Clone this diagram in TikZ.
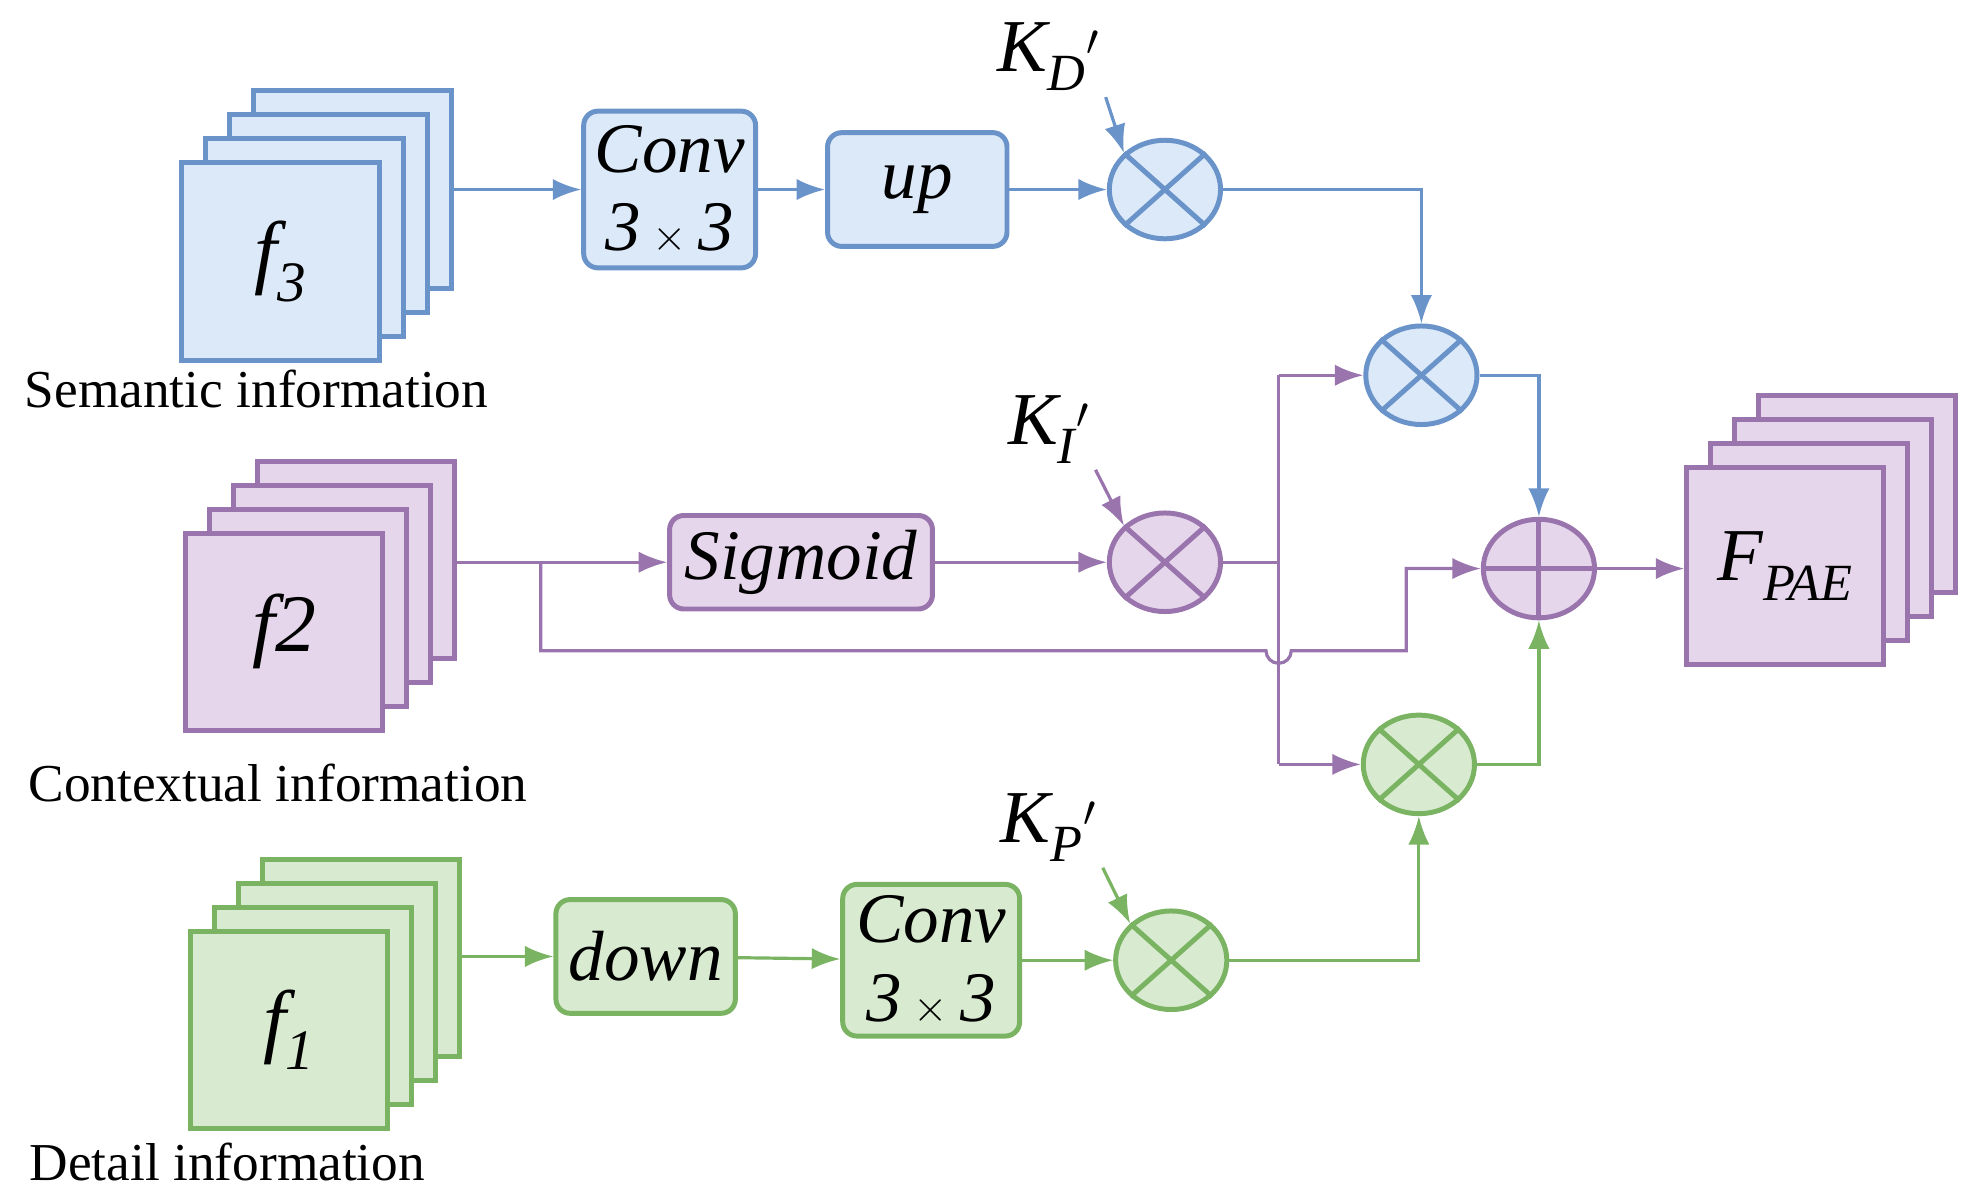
\documentclass[tikz,border=0pt]{standalone}
\usepackage{fontspec}
\setmainfont{Liberation Serif}
\usetikzlibrary{arrows.meta,shapes.geometric}
\definecolor{bluel}{HTML}{6A94C9}
\definecolor{bluef}{HTML}{DCE9F8}
\definecolor{purl}{HTML}{9A74AD}
\definecolor{purf}{HTML}{E6D6EB}
\definecolor{grnl}{HTML}{7AB463}
\definecolor{grnf}{HTML}{D8EBD0}
\tikzset{
  every picture/.style={x=0.025cm,y=-0.025cm},
  box/.style={rectangle,rounded corners=8pt,line width=2.8pt,font=\fontsize{40}{44}\selectfont\itshape,align=center},
  op/.style={ellipse,line width=2.8pt,minimum width=2.2cm,minimum height=1.95cm,inner sep=0pt},
  fmap/.style={rectangle,line width=2.8pt,minimum size=3.9cm,font=\fontsize{46}{50}\selectfont\itshape},
  lbl/.style={font=\fontsize{30}{34}\selectfont},
  klbl/.style={font=\fontsize{42}{46}\selectfont\itshape},
  conn/.style={line width=1.8pt,-{Latex[length=16pt,width=12pt]}},
  wire/.style={line width=1.8pt}
}
\newcommand{\featstack}[4]{% name, center, line, fill
  \foreach \k in {3,2,1}
    \draw[line width=2.8pt,draw=#3,fill=#4] ($(#2)+(19*\k,-19*\k)$) ++(-78,-78) rectangle ++(156,156);
}
\usetikzlibrary{calc}
\newcommand{\cross}[1]{\draw[line width=2.8pt,draw=#1] (\opn.north east)--(\opn.south west) (\opn.north west)--(\opn.south east);}
\begin{document}
\begin{tikzpicture}
\useasboundingbox (0,0) rectangle (1560,948);
% feature maps
\featstack{f3}{222,207}{bluel}{bluef}
\node[fmap,draw=bluel,fill=bluef] (f3) at (222,207) {f\textsubscript{3}};
\featstack{f2}{225,500}{purl}{purf}
\node[fmap,draw=purl,fill=purf] (f2) at (225,500) {f2};
\featstack{f1}{229,815}{grnl}{grnf}
\node[fmap,draw=grnl,fill=grnf] (f1) at (229,815) {f\textsubscript{1}};
\featstack{fpae}{1413,448}{purl}{purf}
\node[fmap,draw=purl,fill=purf,font=\fontsize{42}{46}\selectfont\itshape] (fpae) at (1413,448) {F\textsubscript{PAE}};
\node[lbl] (sem) at (203,308) {Semantic information};
\node[lbl] (ctx) at (220,620) {Contextual information};
\node[lbl] (det) at (180,920) {Detail information};
% blocks
\node[box,draw=bluel,fill=bluef,minimum width=3.4cm,minimum height=3.1cm] (conv3) at (530,150) {Conv\\3\,$\times$\,3};
\node[box,draw=bluel,fill=bluef,minimum width=3.55cm,minimum height=2.25cm] (up) at (726,150) {up};
\node[box,draw=purl,fill=purf,minimum width=5.2cm,minimum height=1.85cm] (sig) at (634,445) {Sigmoid};
\node[box,draw=grnl,fill=grnf,minimum width=3.55cm,minimum height=2.25cm] (down) at (511,757) {down};
\node[box,draw=grnl,fill=grnf,minimum width=3.5cm,minimum height=3cm] (conv1) at (737,760) {Conv\\3\,$\times$\,3};
% operators
\node[op,draw=bluel,fill=bluef] (mD) at (922,150) {};
\node[op,draw=bluel,fill=bluef] (mS) at (1125,297) {};
\node[op,draw=purl,fill=purf] (mI) at (922,445) {};
\node[op,draw=grnl,fill=grnf] (mC) at (1123,605) {};
\node[op,draw=grnl,fill=grnf] (mP) at (927,760) {};
\node[op,draw=purl,fill=purf] (add) at (1218,450) {};
\def\opn{mD}\cross{bluel}
\def\opn{mS}\cross{bluel}
\def\opn{mI}\cross{purl}
\def\opn{mC}\cross{grnl}
\def\opn{mP}\cross{grnl}
\draw[line width=2.8pt,draw=purl] (add.north)--(add.south) (add.west)--(add.east);
% weights
\node[klbl] (kD) at (830,45) {K\textsubscript{D}$'$};
\node[klbl] (kI) at (830,340) {K\textsubscript{I}$'$};
\node[klbl] (kP) at (830,655) {K\textsubscript{P}$'$};
\draw[conn,bluel] (kD.south east) -- (mD.north west);
\draw[conn,purl] (kI.south east) -- (mI.north west);
\draw[conn,grnl] (kP.south east) -- (mP.north west);
% semantic branch
\draw[conn,bluel] (f3.east |- 0,150) ++(57,0) coordinate (s3) -- (conv3);
\draw[conn,bluel] (conv3) -- (up);
\draw[conn,bluel] (up) -- (mD);
\draw[conn,bluel] (mD.east) -| (mS.north);
\draw[conn,bluel] (mS.east) -| (add.north);
% contextual branch
\coordinate (s2) at (360,445);
\coordinate (br) at (428,445);
\coordinate (sp) at (1012,445);
\draw[conn,purl] (s2) -- (sig);
\draw[conn,purl] (sig) -- (mI);
\draw[wire,purl] (mI.east) -- (sp);
\draw[wire,purl] (sp |- mS) -- (sp |- mC);
\draw[conn,purl] (sp |- mS) -- (mS.west);
\draw[conn,purl] (sp |- mC) -- (mC.west);
\draw[conn,purl] (br) -- (428,515) -- (1002,515) arc[start angle=180,end angle=0,radius=10] -- (1113,515) -- (1113,450) -- (add.west);
\draw[conn,purl] (add.east) -- (fpae.west |- add);
% detail branch
\coordinate (s1) at (365,757);
\draw[conn,grnl] (s1) -- (down);
\draw[conn,grnl] (down) -- (conv1);
\draw[conn,grnl] (conv1.east |- mP) -- (mP);
\draw[conn,grnl] (mP.east) -| (mC.south);
\draw[conn,grnl] (mC.east) -| (add.south);
\end{tikzpicture}
\end{document}
